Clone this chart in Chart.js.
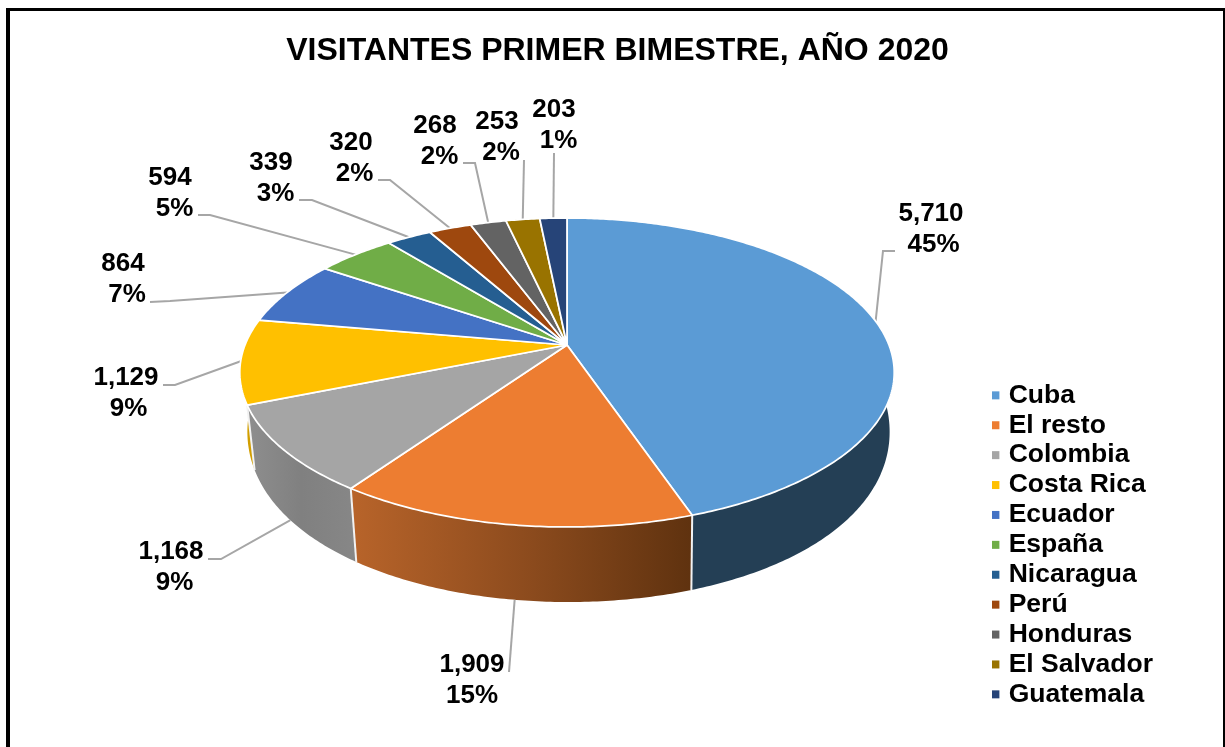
<!DOCTYPE html>
<html>
<head>
<meta charset="utf-8">
<title>Visitantes primer bimestre 2020</title>
<script src="https://cdn.jsdelivr.net/npm/chart.js@4/dist/chart.umd.min.js"></script>
<style>
html, body { margin: 0; padding: 0; background: #fff; }
#wrap { width: 1225px; height: 747px; overflow: hidden; }
</style>
</head>
<body>
<div id="wrap"><canvas id="pie3d" width="1225" height="747"></canvas></div>
<script>
var categorias = ['Cuba', 'El resto', 'Colombia', 'Costa Rica', 'Ecuador', 'España', 'Nicaragua', 'Perú', 'Honduras', 'El Salvador', 'Guatemala'];
var visitantes = [5710, 1909, 1168, 1129, 864, 594, 339, 320, 268, 253, 203];
var porcentajes = ['45%', '15%', '9%', '9%', '7%', '5%', '3%', '2%', '2%', '2%', '1%'];
var colores = ['#5B9BD5', '#ED7D31', '#A5A5A5', '#FFC000', '#4472C4', '#70AD47', '#255E91', '#9E480E', '#636363', '#997300', '#264478'];
var coloresLado = [
    ['#243F55', '#243F55'],
    ['#B8642A', '#8E4C1E', '#5F320F'],
    ['#8E8E8E', '#808080', '#878787'],
    ['#D9A400', '#C49400'],
    ['#2F4F88', '#2F4F88'],
    ['#4D7731', '#4D7731'],
    ['#183E60', '#183E60'],
    ['#692F09', '#692F09'],
    ['#424242', '#424242'],
    ['#664C00', '#664C00'],
    ['#192D50', '#192D50']
];

// label text: centre x of both lines, baseline of first line, leader elbow x, y, leader end (null = no elbow)
var etiquetaX = [931, 472, 171, 126, 123, 170, 271, 351, 435, 497, 554];
var etiquetaY = [221, 672, 559, 385, 271, 185, 170, 150, 133, 129, 117];
var porcentajeX = [933.5, 472, 174.5, 128.5, 127, 174.5, 275.5, 354.5, 439.5, 501, 558.5];
var codoX = [883, null, 221, 175, 170, 210, 312, 390, 475, null, null];
var codoY = [251, null, 559, 385, 301, 215, 200, 180, 163, null, null];
var finX = [895, 509, 208, 163, 150, 198, 299, 378, 463, 524, 554];
var finY = [251, 672, 559, 385, 302, 215, 200, 180, 163, 160, 153];

var CX = 567, CY = 345, RX = 322, RY = 149.6, K = 0.178;
var FUENTE = '"Liberation Sans", Arial, sans-serif';

// project a point of the rim (chart.js angle) on the top face
function rimTop(a) {
    var u = Math.cos(a), v = Math.sin(a), w = 1 - K * v;
    return { x: CX + RX * u / w, y: CY + RY * v / w, v: v };
}

// same point on the lower edge of the wall
function rimBottom(a) {
    var u = Math.cos(a), v = Math.sin(a);
    return { x: CX + 1.5 + 316 * u / (1 - K * v), y: 398.7 + 183 * v / (1 - 0.1 * v), v: v };
}

function drawWall(ctx, arc, stops) {
    var n = Math.max(2, Math.ceil((arc.endAngle - arc.startAngle) * 90));
    var i, p, top = [], bottom = [];
    for (i = 0; i <= n; i++) {
        var a = arc.startAngle + (arc.endAngle - arc.startAngle) * i / n;
        top.push(rimTop(a));
        bottom.push(rimBottom(a));
    }
    var xs = top.concat(bottom).map(function(q) { return q.x; });
    var grad = ctx.createLinearGradient(Math.min.apply(null, xs), 0, Math.max.apply(null, xs), 0);
    stops.forEach(function(c, j) { grad.addColorStop(j / (stops.length - 1), c); });
    ctx.beginPath();
    top.forEach(function(q, j) { if (j) ctx.lineTo(q.x, q.y); else ctx.moveTo(q.x, q.y); });
    for (i = n; i >= 0; i--) {
        p = bottom[i];
        ctx.lineTo(p.x, p.y);
    }
    ctx.closePath();
    ctx.fillStyle = grad;
    ctx.fill();
}

function drawEdge(ctx, a) {
    var t = rimTop(a), b = rimBottom(a);
    if (t.v < 0.2) return;
    ctx.beginPath();
    ctx.moveTo(t.x, t.y);
    ctx.lineTo(b.x, b.y);
    ctx.strokeStyle = '#F2F2F2';
    ctx.lineWidth = 2;
    ctx.stroke();
}

function drawFace(ctx, arc, color) {
    var n = Math.max(2, Math.ceil((arc.endAngle - arc.startAngle) * 90));
    ctx.beginPath();
    ctx.moveTo(CX, CY);
    for (var i = 0; i <= n; i++) {
        var p = rimTop(arc.startAngle + (arc.endAngle - arc.startAngle) * i / n);
        ctx.lineTo(p.x, p.y);
    }
    ctx.closePath();
    ctx.fillStyle = color;
    ctx.fill();
    ctx.strokeStyle = '#FFFFFF';
    ctx.lineWidth = 1.75;
    ctx.lineJoin = 'round';
    ctx.stroke();
}

function drawLeader(ctx, arc, i) {
    var mid = (arc.startAngle + arc.endAngle) / 2;
    // front slices hang their leader from the lower edge of the wall
    var p = (i === 1 || i === 2) ? rimBottom(mid) : rimTop(mid);
    ctx.beginPath();
    ctx.moveTo(p.x, p.y);
    if (codoX[i] !== null) ctx.lineTo(codoX[i], codoY[i]);
    ctx.lineTo(finX[i], finY[i]);
    ctx.strokeStyle = '#A6A6A6';
    ctx.lineWidth = 2;
    ctx.stroke();
}

var pie3dPlugin = {
    id: 'pie3d',
    beforeDraw: function(chart) {
        var ctx = chart.ctx;
        ctx.save();
        ctx.fillStyle = '#FFFFFF';
        ctx.fillRect(0, 0, chart.width, chart.height);
        // outer frame, the bottom side is cut off by the window
        ctx.fillStyle = '#000000';
        ctx.fillRect(6, 8, 4, 739);
        ctx.fillRect(6, 8, 1219, 3);
        ctx.fillRect(1223, 8, 2, 739);
        ctx.restore();
    },
    beforeDatasetsDraw: function(chart) {
        var ctx = chart.ctx;
        var arcs = chart.getDatasetMeta(0).data;
        ctx.save();
        var order = arcs.map(function(arc, i) { return i; }).sort(function(a, b) {
            return Math.sin((arcs[a].startAngle + arcs[a].endAngle) / 2) - Math.sin((arcs[b].startAngle + arcs[b].endAngle) / 2);
        });
        order.forEach(function(i) { drawWall(ctx, arcs[i], coloresLado[i]); });
        arcs.forEach(function(arc) { drawEdge(ctx, arc.startAngle); });
        arcs.forEach(function(arc, i) { drawLeader(ctx, arc, i); });
        arcs.forEach(function(arc, i) { drawFace(ctx, arc, colores[i]); });

        ctx.fillStyle = '#000000';
        ctx.font = 'bold 26px ' + FUENTE;
        ctx.textAlign = 'center';
        ctx.textBaseline = 'alphabetic';
        visitantes.forEach(function(val, i) {
            ctx.fillText(val.toLocaleString('en-US'), etiquetaX[i], etiquetaY[i]);
            ctx.fillText(porcentajes[i], porcentajeX[i], etiquetaY[i] + 30.5);
        });
        ctx.restore();
        return false; // the stock flat arcs are replaced by the drawing above
    }
};

new Chart(document.getElementById('pie3d'), {
    type: 'pie',
    data: {
        labels: categorias,
        datasets: [{
            data: visitantes,
            backgroundColor: colores,
            borderWidth: 0
        }]
    },
    options: {
        responsive: false,
        animation: false,
        layout: { padding: { left: 72, right: 62, top: 32, bottom: 36 } },
        plugins: {
            tooltip: { enabled: false },
            title: {
                display: true,
                text: 'VISITANTES PRIMER BIMESTRE, AÑO 2020',
                color: '#000000',
                font: { family: FUENTE, size: 32, weight: 'bold' },
                padding: { top: 0, bottom: 10 }
            },
            legend: {
                position: 'right',
                align: 'end',
                labels: {
                    color: '#000000',
                    font: { family: FUENTE, size: 26.5, weight: 'bold' },
                    usePointStyle: true,
                    pointStyle: 'rect',
                    boxWidth: 0.01,
                    boxHeight: 8,
                    padding: 3.4
                }
            }
        }
    },
    plugins: [pie3dPlugin]
});
</script>
</body>
</html>
